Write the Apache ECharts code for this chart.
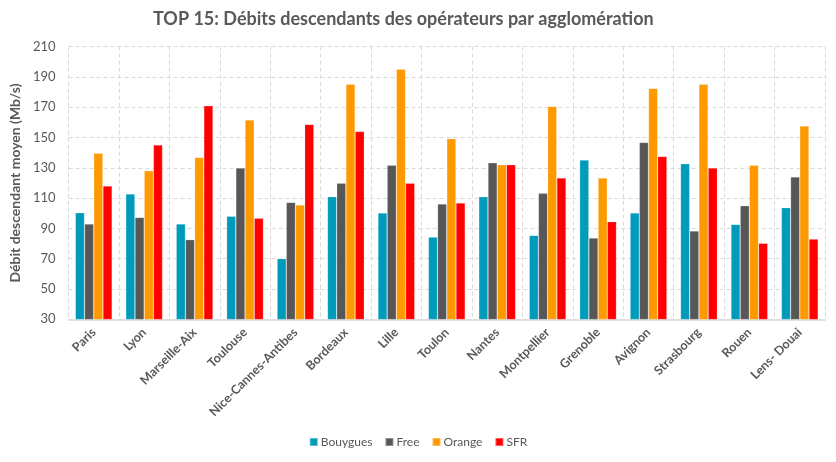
<!DOCTYPE html>
<html>
<head>
<meta charset="utf-8">
<script src="https://cdn.jsdelivr.net/npm/echarts@6/dist/echarts.min.js"></script>
<style>
html,body{margin:0;padding:0;background:#fff;}
#c{width:836px;height:462px;}
</style>
</head>
<body>
<div id="c"></div>
<script>
const categories = ['Paris','Lyon','Marseille-Aix','Toulouse','Nice-Cannes-Antibes','Bordeaux','Lille','Toulon','Nantes','Montpellier','Grenoble','Avignon','Strasbourg','Rouen','Lens- Douai'];
const bouygues = [100.4,112.7,92.9,98,70,111,100.2,84.3,111,85.4,135.2,100.2,132.8,92.7,103.7];
const free     = [92.9,97.3,82.6,129.9,107.2,119.8,131.7,106.1,133.4,113.2,83.7,146.8,88.3,105,124];
const orange   = [139.6,128.1,136.9,161.6,105.5,185.3,195.2,149.3,132.1,170.6,123.3,182.5,185.3,131.7,157.6];
const sfr      = [118,145.1,171,96.7,158.7,154.1,119.8,106.8,132.1,123.3,94.5,137.6,129.9,80.2,83];
const yTicks = {min:30, max:210, interval:20};

const font = 'Lato, "Open Sans", sans-serif';
const txt = '#595959';
function s(name, data, color){
  return {name, type:'bar', data, barGap:'0%', barCategoryGap:'27%',
    itemStyle:{color, borderColor:'rgba(255,255,255,0.35)', borderWidth:0.6}};
}
const chart = echarts.init(document.getElementById('c'));
chart.setOption({
  animation:false,
  textStyle:{fontFamily:font},
  title:{text:'TOP 15: Débits descendants des opérateurs par agglomération', left:148, top:5,
    textStyle:{fontFamily:font, fontSize:18, fontWeight:'bold', color:txt}},
  grid:{left:66.7, right:11, top:46.7, bottom:142.7, containLabel:false},
  legend:{bottom:9, left:'center', itemWidth:8, itemHeight:8, itemGap:12, icon:'rect',
    textStyle:{fontFamily:font, fontSize:12, color:txt, padding:[0,0,0,-2]}},
  xAxis:{type:'category', data:categories,
    axisLine:{lineStyle:{color:'#d9d9d9', width:1.5}},
    axisTick:{show:false},
    splitLine:{show:true, lineStyle:{color:'#d9d9d9', type:[4,3], width:1}},
    axisLabel:{rotate:45, interval:0, fontFamily:font, fontSize:12.5, fontWeight:'bold', color:txt, margin:11}},
  yAxis:{type:'value', min:yTicks.min, max:yTicks.max, interval:yTicks.interval,
    name:'Débit descendant moyen (Mb/s)', nameLocation:'middle', nameGap:44,
    nameTextStyle:{fontFamily:font, fontSize:14, fontWeight:'bold', color:txt},
    axisLine:{show:false}, axisTick:{show:false},
    splitLine:{lineStyle:{color:'#d9d9d9', type:[4,3], width:1}},
    axisLabel:{fontFamily:font, fontSize:13, color:txt, margin:13}},
  series:[s('Bouygues',bouygues,'#009bbb'), s('Free',free,'#575757'), s('Orange',orange,'#ff9900'), s('SFR',sfr,'#ff0000')]
});
</script>
</body>
</html>
